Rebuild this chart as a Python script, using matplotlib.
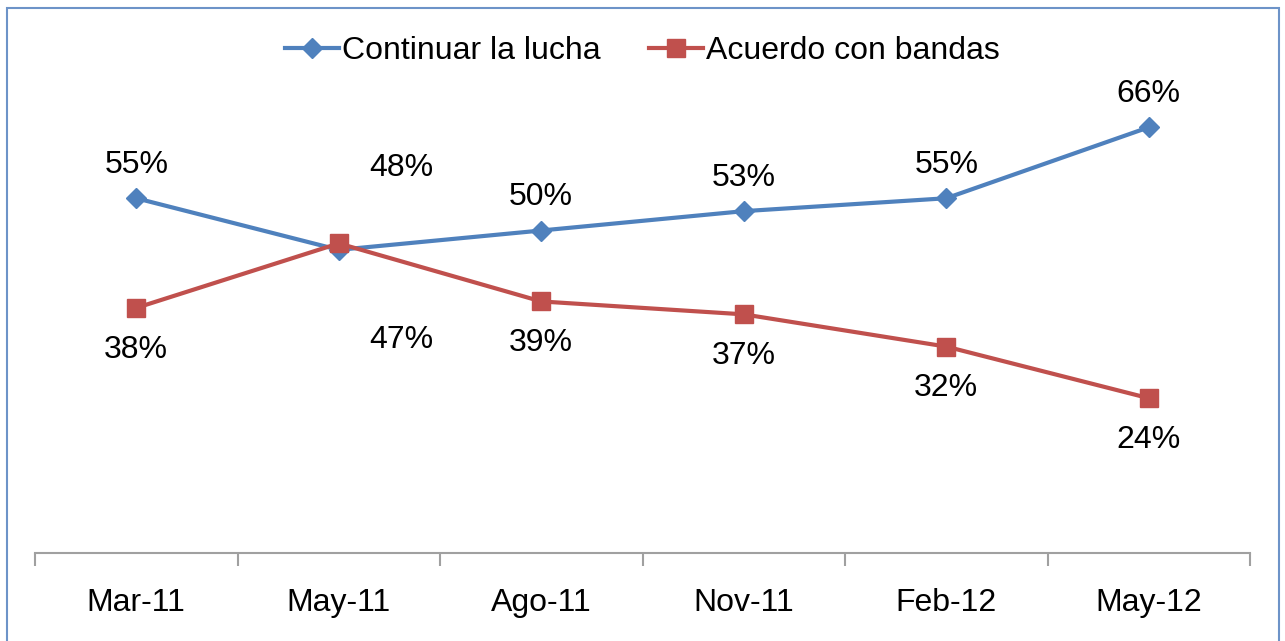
import matplotlib.pyplot as plt
from matplotlib.patches import Rectangle

plt.rcParams['font.family'] = ['Liberation Sans', 'DejaVu Sans']

categories = ["Mar-11", "May-11", "Ago-11", "Nov-11", "Feb-12", "May-12"]
continuar = [55, 47, 50, 53, 55, 66]
acuerdo = [38, 48, 39, 37, 32, 24]

BLUE = "#4F81BD"
RED = "#C0504D"
FS = 23

fig = plt.figure(figsize=(12.85, 6.41), dpi=100)
ax = fig.add_axes([35 / 1285, 1 - 553 / 641, 1215 / 1285, (553 - 37) / 641])

x = list(range(len(categories)))
ax.plot(x, continuar, color=BLUE, lw=3, marker="D", ms=10, label="Continuar la lucha")
ax.plot(x, acuerdo, color=RED, lw=3, marker="s", ms=13, label="Acuerdo con bandas")

# data labels: the higher series goes above, the lower one below
for i in x:
    b, r = continuar[i], acuerdo[i]
    close = abs(b - r) < 3
    dx = 0.31 if close else 0
    up, down = (54, -65) if close else (24, -30)
    top, bot = (b, r) if b >= r else (r, b)
    ax.annotate(f"{top}%", (i + dx, max(b, r)), xytext=(0, up), textcoords="offset points",
                ha="center", va="center", fontsize=FS)
    ax.annotate(f"{bot}%", (i + dx, min(b, r)), xytext=(0, down), textcoords="offset points",
                ha="center", va="center", fontsize=FS)

ax.set_xlim(-0.5, len(categories) - 0.5)
ax.set_ylim(0, 80)
ax.set_yticks([])
for s in ["top", "right", "left"]:
    ax.spines[s].set_visible(False)
ax.spines["bottom"].set_color("#A0A0A0")
ax.spines["bottom"].set_linewidth(1.5)

ax.set_xticks([i - 0.5 for i in range(len(categories) + 1)])
ax.set_xticklabels([])
ax.tick_params(axis="x", length=9, width=1.5, color="#A0A0A0")
for i, c in enumerate(categories):
    ax.text(i, -0.097, c, transform=ax.get_xaxis_transform(), ha="center", va="center",
            fontsize=FS)

ax.legend(loc="center", bbox_to_anchor=(0.5, 1 - 51 / 641), bbox_transform=fig.transFigure,
          ncol=2, frameon=False, fontsize=FS, handlelength=1.7, handletextpad=0.1,
          columnspacing=1.5)

fig.patches.append(Rectangle((7 / 1285, -0.05), 1272 / 1285, 1.05 - 8 / 641,
                             transform=fig.transFigure, fill=False,
                             edgecolor="#6D93C8", lw=1.5))

fig.savefig("out.png", dpi=100)
